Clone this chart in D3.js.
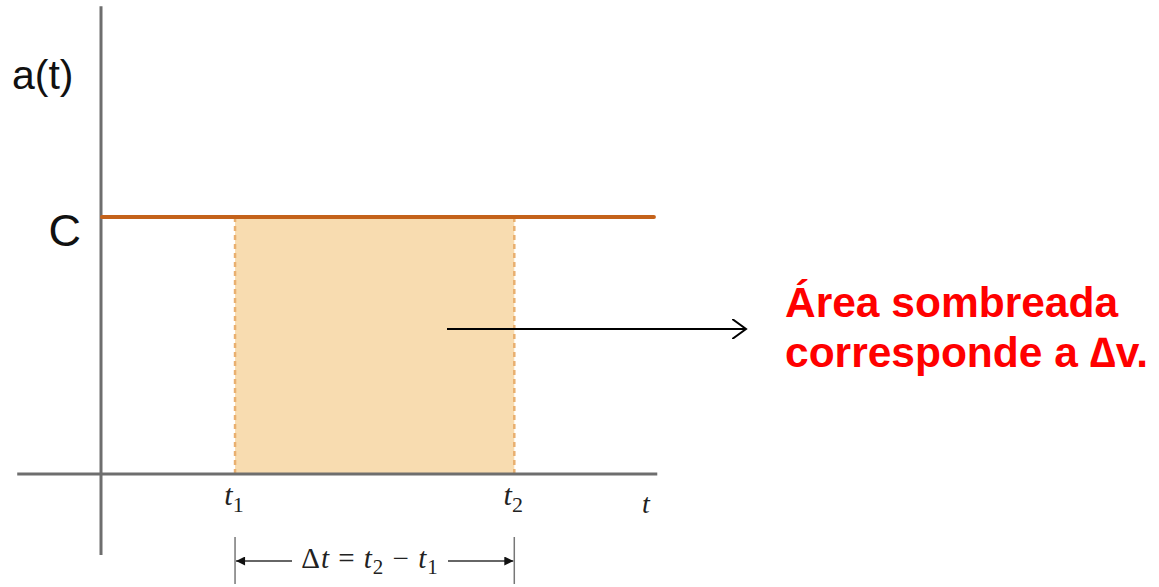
<!DOCTYPE html>
<html>
<head>
<meta charset="utf-8">
<script src="https://cdn.jsdelivr.net/npm/d3@7"></script>
<style>
  html, body { margin: 0; padding: 0; background: #fff; }
  svg { display: block; }
</style>
</head>
<body>
<svg id="chart" width="1159" height="587"></svg>
<script>
// Constant acceleration a(t) = C between two instants t1 and t2
const accelValue = 1;               // C
const tMarks = [
  { name: "t", sub: "1", value: 1.2 },
  { name: "t", sub: "2", value: 3.7 }
];
const tDomain = [-0.75, 4.98];      // horizontal axis extent
const aDomain = [-0.315, 1.82];     // vertical axis extent
const lineEnd = 4.95;               // where the a(t) = C line stops
const yLabel = "a(t)";
const cLabel = "C";
const xLabel = "t";
const noteLines = ["Área sombreada", "corresponde a \u2206v."];

const svg = d3.select("#chart");

const x = d3.scaleLinear().domain([0, 5]).range([101, 101 + 5 * 111.7]);
const y = d3.scaleLinear().domain([0, accelValue]).range([474, 217]);

const t1 = tMarks[0].value, t2 = tMarks[1].value;

// shaded area under the curve between t1 and t2
svg.append("rect")
  .attr("x", x(t1)).attr("y", y(accelValue))
  .attr("width", x(t2) - x(t1)).attr("height", y(0) - y(accelValue))
  .attr("fill", "#f8dcb0");

// dashed verticals at t1, t2
svg.selectAll("line.drop").data(tMarks).enter().append("line")
  .attr("class", "drop")
  .attr("x1", d => x(d.value)).attr("x2", d => x(d.value))
  .attr("y1", y(accelValue)).attr("y2", y(0))
  .attr("stroke", "#e9b070").attr("stroke-width", 2.5)
  .attr("stroke-dasharray", "5,4");

// axes
svg.append("line")
  .attr("x1", x(tDomain[0])).attr("x2", x(tDomain[1]))
  .attr("y1", y(0)).attr("y2", y(0))
  .attr("stroke", "#6e6e6e").attr("stroke-width", 3);
svg.append("line")
  .attr("x1", x(0)).attr("x2", x(0))
  .attr("y1", y(aDomain[1])).attr("y2", y(aDomain[0]))
  .attr("stroke", "#6e6e6e").attr("stroke-width", 3);

// a(t) = C
svg.append("line")
  .attr("x1", x(0) + 1).attr("x2", x(lineEnd))
  .attr("y1", y(accelValue)).attr("y2", y(accelValue))
  .attr("stroke", "#c4621a").attr("stroke-width", 4)
  .attr("stroke-linecap", "round");

// axis labels
svg.append("text").attr("x", 12).attr("y", 89)
  .attr("font-family", "Liberation Sans, Arial, sans-serif")
  .attr("font-size", 41).attr("fill", "#111").text(yLabel);
svg.append("text").attr("x", 81).attr("y", y(accelValue) + 29)
  .attr("text-anchor", "end")
  .attr("font-family", "Liberation Sans, Arial, sans-serif")
  .attr("font-size", 45).attr("fill", "#111").text(cLabel);

// t1, t2 tick labels
const tl = svg.selectAll("text.tl").data(tMarks).enter().append("text")
  .attr("class", "tl")
  .attr("x", d => x(d.value) - 1).attr("y", y(0) + 31)
  .attr("text-anchor", "middle")
  .attr("font-family", "Liberation Serif, Times New Roman, serif")
  .attr("font-size", 30).attr("fill", "#222");
tl.append("tspan").attr("font-style", "italic").text(d => d.name);
tl.append("tspan").attr("font-size", 22).attr("dy", 7).text(d => d.sub);

svg.append("text").attr("x", 646).attr("y", 513)
  .attr("text-anchor", "middle")
  .attr("font-family", "Liberation Serif, Times New Roman, serif")
  .attr("font-style", "italic")
  .attr("font-size", 28).attr("fill", "#222").text(xLabel);

// Δt bracket
const by = 561;
svg.selectAll("line.bt").data(tMarks).enter().append("line")
  .attr("class", "bt")
  .attr("x1", d => x(d.value)).attr("x2", d => x(d.value))
  .attr("y1", 537).attr("y2", 584)
  .attr("stroke", "#777").attr("stroke-width", 1.5);

const defs = svg.append("defs");
defs.append("marker").attr("id", "tri")
  .attr("viewBox", "0 0 10 10").attr("refX", 10).attr("refY", 5)
  .attr("markerWidth", 14).attr("markerHeight", 9)
  .attr("markerUnits", "userSpaceOnUse")
  .attr("orient", "auto-start-reverse")
  .append("path").attr("d", "M0,0 L10,5 L0,10 Z").attr("fill", "#111");

svg.append("line")
  .attr("x1", x(t1) + 1).attr("x2", 292).attr("y1", by).attr("y2", by)
  .attr("stroke", "#333").attr("stroke-width", 1.5)
  .attr("marker-start", "url(#tri)");
svg.append("line")
  .attr("x1", 448).attr("x2", x(t2) - 1).attr("y1", by).attr("y2", by)
  .attr("stroke", "#333").attr("stroke-width", 1.5)
  .attr("marker-end", "url(#tri)");

const dt = svg.append("text").attr("x", 370).attr("y", by + 7)
  .attr("text-anchor", "middle")
  .attr("font-family", "Liberation Serif, Times New Roman, serif")
  .attr("font-size", 29).attr("letter-spacing", 1).attr("fill", "#222");
dt.append("tspan").text("\u0394");
dt.append("tspan").attr("font-style", "italic").text("t");
dt.append("tspan").text(" = ");
dt.append("tspan").attr("font-style", "italic").text("t");
dt.append("tspan").attr("font-size", 21).attr("dy", 6).text("2");
dt.append("tspan").attr("dy", -6).text(" \u2212 ");
dt.append("tspan").attr("font-style", "italic").text("t");
dt.append("tspan").attr("font-size", 21).attr("dy", 6).text("1");

// pointer arrow to the note
defs.append("marker").attr("id", "open")
  .attr("viewBox", "0 0 12 16").attr("refX", 11).attr("refY", 8)
  .attr("markerWidth", 16).attr("markerHeight", 20)
  .attr("markerUnits", "userSpaceOnUse")
  .attr("orient", "auto")
  .append("path").attr("d", "M0,0 L11,8 L0,16")
  .attr("fill", "none").attr("stroke", "#000").attr("stroke-width", 1.6);
svg.append("line")
  .attr("x1", 447).attr("x2", 746).attr("y1", 329).attr("y2", 329)
  .attr("stroke", "#000").attr("stroke-width", 2)
  .attr("marker-end", "url(#open)");

// note
svg.append("text")
  .attr("font-family", "Liberation Sans, Arial, sans-serif")
  .attr("font-weight", "bold").attr("font-size", 42.5).attr("fill", "#ff0000")
  .selectAll("tspan").data(noteLines).enter().append("tspan")
  .attr("x", 785).attr("y", (d, i) => 317 + i * 50)
  .text(d => d);
</script>
</body>
</html>
